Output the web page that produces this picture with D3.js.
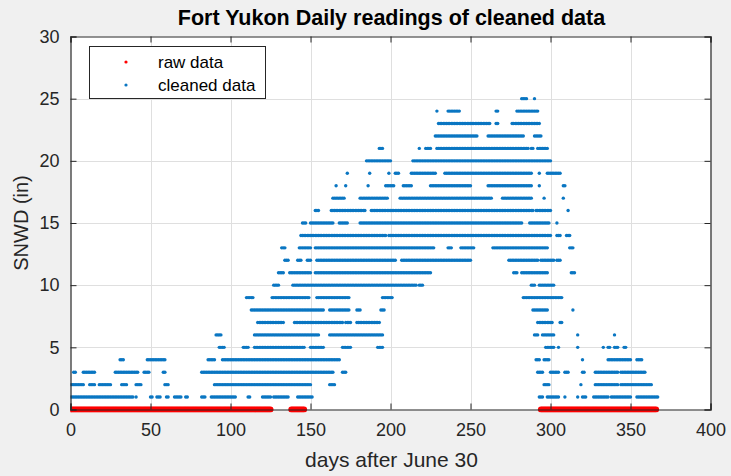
<!DOCTYPE html>
<html>
<head>
<meta charset="utf-8">
<script src="https://cdn.jsdelivr.net/npm/d3@7/dist/d3.min.js"></script>
<style>
  html, body { margin: 0; padding: 0; background: #f0f0f0; }
  svg { display: block; font-family: "Liberation Sans", Arial, Helvetica, sans-serif; }
</style>
</head>
<body>
<svg id="chart" width="731" height="476"></svg>
<script>
// ---- data -------------------------------------------------------------
const chartTitle = "Fort Yukon Daily readings of cleaned data";
const xLabel = "days after June 30";
const yLabel = "SNWD (in)";
const xTicks = [0, 50, 100, 150, 200, 250, 300, 350, 400];
const yTicks = [0, 5, 10, 15, 20, 25, 30];
const legendLabels = ["raw data", "cleaned data"];

// raw readings of 0 in (runs of consecutive days, inclusive)
const rawZeroRuns = [[0, 125], [138, 146], [294, 366]];

// cleaned snow depth readings: for each depth (in), runs of days [first, last]
const cleanedDepths = [1, 2, 3, 4, 5, 6, 7, 8, 9, 10, 11, 12, 13, 14, 15, 16, 17, 18, 19, 20, 21, 22, 23, 24, 25];
const cleanedRuns = [
  /* 1 */ [[0,39],[41,41],[50,51],[54,56],[60,61],[65,69],[72,73],[82,84],[88,103],[111,112],[120,125],[127,136],[142,151],[293,295],[298,305],[309,309],[317,317],[320,322],[327,336],[338,350],[354,367]],
  /* 2 */ [[0,8],[12,15],[18,25],[32,35],[41,44],[59,61],[90,150],[162,165],[296,299],[319,319],[328,342],[344,363]],
  /* 3 */ [[2,3],[8,15],[28,42],[46,49],[58,59],[82,164],[170,172],[292,295],[300,305],[309,311],[320,321],[328,342],[344,359]],
  /* 4 */ [[31,33],[48,59],[86,90],[95,168],[291,293],[296,299],[320,320],[336,350],[354,357]],
  /* 5 */ [[93,96],[108,111],[115,146],[150,158],[170,175],[192,195],[297,302],[305,305],[317,317],[333,333],[336,337],[340,342],[346,347]],
  /* 6 */ [[91,94],[115,155],[162,195],[290,292],[295,302],[317,317],[340,340]],
  /* 7 */ [[117,133],[140,170],[172,175],[179,193],[292,301],[306,307]],
  /* 8 */ [[113,158],[162,174],[179,181],[194,196],[289,298],[314,314]],
  /* 9 */ [[110,114],[126,149],[154,174],[195,201],[283,307]],
  /* 10 */ [[127,130],[139,216],[218,220],[288,290],[293,302]],
  /* 11 */ [[130,133],[137,150],[153,225],[277,279],[282,298],[313,315]],
  /* 12 */ [[134,136],[142,144],[148,150],[154,203],[207,250],[274,292],[294,302],[304,306]],
  /* 13 */ [[132,134],[143,150],[153,227],[236,238],[244,252],[264,298],[312,314]],
  /* 14 */ [[144,197],[199,300],[304,306],[310,312]],
  /* 15 */ [[145,147],[150,164],[168,173],[181,282],[287,299],[304,304]],
  /* 16 */ [[153,155],[163,184],[188,289],[291,300],[311,311]],
  /* 17 */ [[164,171],[181,198],[206,263],[270,288],[296,296],[308,308]],
  /* 18 */ [[166,166],[172,172],[186,186],[197,202],[208,213],[225,250],[261,288],[293,293],[308,309]],
  /* 19 */ [[173,173],[187,187],[199,199],[203,205],[213,228],[234,288],[293,293],[298,306]],
  /* 20 */ [[185,200],[214,300]],
  /* 21 */ [[193,195],[218,218],[222,225],[229,286],[288,289],[292,298]],
  /* 22 */ [[228,254],[261,283],[290,294]],
  /* 23 */ [[230,262],[266,267],[276,293]],
  /* 24 */ [[229,229],[236,243],[266,267],[279,292]],
  /* 25 */ [[282,285],[290,290]]
];

// ---- expand runs into daily points -----------------------------------
function expandRuns(runs, depth) {
  const pts = [];
  runs.forEach(([a, b]) => { for (let d = a; d <= b; d++) pts.push({ day: d, snwd: depth }); });
  return pts;
}
const rawPoints = expandRuns(rawZeroRuns, 0);
const cleanedPoints = cleanedDepths.flatMap((depth, i) => expandRuns(cleanedRuns[i], depth));

// ---- layout -----------------------------------------------------------
const plot = { left: 70.5, right: 710.5, top: 36.5, bottom: 409.5 };
const axisColor = "#262626";
const gridColor = "#dfdfdf";
const rawColor = "#ff0000";
const cleanColor = "#0a76c2";

const svg = d3.select("#chart");

const x = d3.scaleLinear().domain([0, 400]).range([plot.left, plot.right]);
const y = d3.scaleLinear().domain([0, 30]).range([plot.bottom, plot.top]);

// plot background
svg.append("rect")
  .attr("x", plot.left).attr("y", plot.top)
  .attr("width", plot.right - plot.left).attr("height", plot.bottom - plot.top)
  .attr("fill", "#ffffff");

// grid
const grid = svg.append("g").attr("stroke", gridColor).attr("stroke-width", 1);
grid.selectAll("line.gx").data(xTicks.slice(1, -1)).join("line")
  .attr("x1", d => Math.round(x(d)) + 0.5).attr("x2", d => Math.round(x(d)) + 0.5)
  .attr("y1", plot.top).attr("y2", plot.bottom);
grid.selectAll("line.gy").data(yTicks.slice(1, -1)).join("line")
  .attr("y1", d => Math.round(y(d)) + 0.5).attr("y2", d => Math.round(y(d)) + 0.5)
  .attr("x1", plot.left).attr("x2", plot.right);

// axes (ticks point inward, box on all four sides)
const tickLen = 6;
const xAxisB = d3.axisBottom(x).tickValues(xTicks).tickSize(-tickLen).tickPadding(14).tickFormat(d3.format("d"));
const xAxisT = d3.axisTop(x).tickValues(xTicks).tickSize(-tickLen).tickFormat("");
const yAxisL = d3.axisLeft(y).tickValues(yTicks).tickSize(-tickLen).tickPadding(11).tickFormat(d3.format("d"));
const yAxisR = d3.axisRight(y).tickValues(yTicks).tickSize(-tickLen).tickFormat("");

function styleAxis(g) {
  g.select(".domain").attr("stroke", axisColor).attr("stroke-width", 1.2);
  g.selectAll(".tick line").attr("stroke", axisColor);
  g.selectAll(".tick text").attr("fill", "#262626").attr("font-size", 18);
}

// data, clipped to the axes
svg.append("clipPath").attr("id", "plotClip").append("rect")
  .attr("x", plot.left).attr("y", plot.top)
  .attr("width", plot.right - plot.left).attr("height", plot.bottom - plot.top + 3);

const dataLayer = svg.append("g").attr("clip-path", "url(#plotClip)");

svg.append("g").attr("transform", `translate(0,${plot.bottom})`).call(xAxisB).call(styleAxis);
svg.append("g").attr("transform", `translate(0,${plot.top})`).call(xAxisT).call(styleAxis);
svg.append("g").attr("transform", `translate(${plot.left},0)`).call(yAxisL).call(styleAxis);
svg.append("g").attr("transform", `translate(${plot.right},0)`).call(yAxisR).call(styleAxis);

dataLayer.selectAll("circle.raw").data(rawPoints).join("circle")
  .attr("class", "raw")
  .attr("cx", d => x(d.day)).attr("cy", d => y(d.snwd))
  .attr("r", 3).attr("fill", rawColor);

dataLayer.selectAll("circle.clean").data(cleanedPoints).join("circle")
  .attr("class", "clean")
  .attr("cx", d => x(d.day)).attr("cy", d => y(d.snwd))
  .attr("r", 1.7).attr("fill", cleanColor);

// title and axis labels
svg.append("text")
  .attr("x", (plot.left + plot.right) / 2 + 1).attr("y", 25)
  .attr("text-anchor", "middle").attr("font-size", 21.5).attr("font-weight", "bold")
  .attr("fill", "#000").text(chartTitle);

svg.append("text")
  .attr("x", (plot.left + plot.right) / 2 + 1).attr("y", 467)
  .attr("text-anchor", "middle").attr("font-size", 21).attr("fill", "#262626")
  .text(xLabel);

svg.append("text")
  .attr("transform", `translate(28,${(plot.top + plot.bottom) / 2}) rotate(-90)`)
  .attr("text-anchor", "middle").attr("font-size", 20).attr("fill", "#262626")
  .text(yLabel);

// legend
const legend = svg.append("g");
legend.append("rect")
  .attr("x", 89.5).attr("y", 46.5).attr("width", 176).attr("height", 52)
  .attr("fill", "#ffffff").attr("stroke", axisColor).attr("stroke-width", 1);
const legendColors = [rawColor, cleanColor];
legendLabels.forEach((label, i) => {
  const cy = 62 + i * 23;
  legend.append("circle").attr("cx", 126).attr("cy", cy).attr("r", 1.6).attr("fill", legendColors[i]);
  legend.append("text").attr("x", 158).attr("y", cy + 6)
    .attr("font-size", 17).attr("fill", "#000").text(label);
});
</script>
</body>
</html>
